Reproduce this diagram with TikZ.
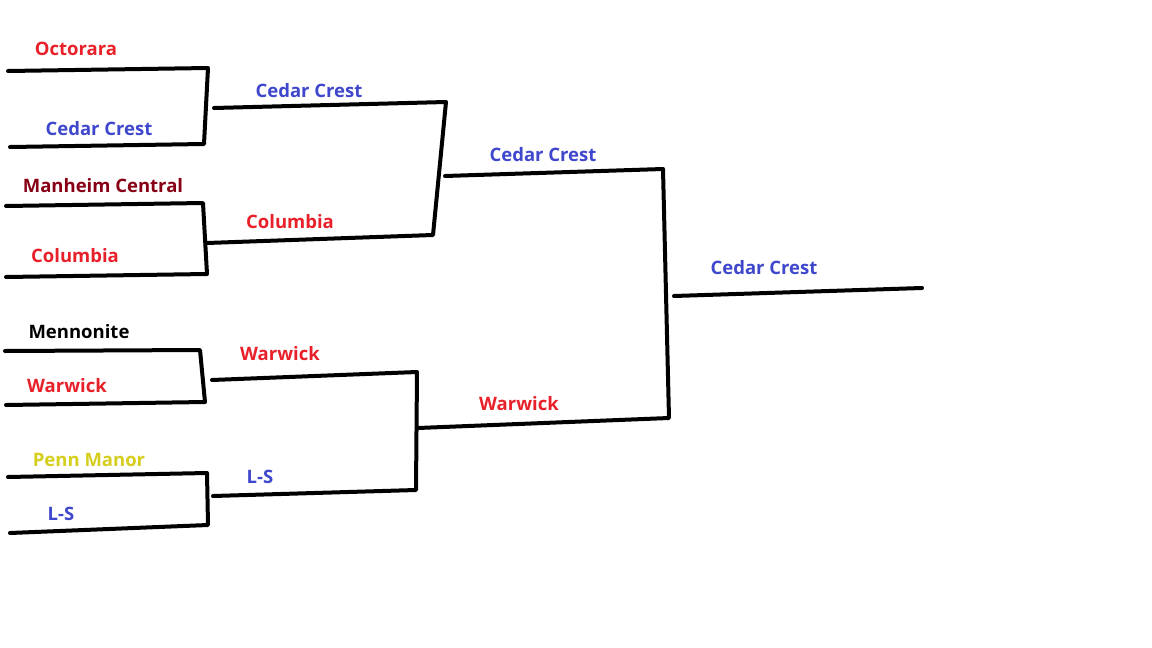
\documentclass[tikz,border=0pt]{standalone}
\usepackage{fontspec}
\setmainfont{Open Sans}
\definecolor{pred}{HTML}{E8202A}
\definecolor{pblue}{HTML}{3F48CC}
\definecolor{pdark}{HTML}{880015}
\definecolor{pyel}{HTML}{D6CE1C}
\tikzset{
  bline/.style={line width=4pt, line cap=round, line join=round, black},
  team/.style={font=\bfseries\fontsize{18.5}{22}\selectfont, inner sep=0pt, anchor=center}
}
\begin{document}
\begin{tikzpicture}[x=1pt,y=-1pt]
\fill[white] (0,0) rectangle (1152,648);
\useasboundingbox (0,0) rectangle (1152,648);
% round 1 corners
\coordinate (a1) at (8,71);   \coordinate (a2) at (208,68);
\coordinate (a3) at (204,144);\coordinate (a4) at (10,147);
\coordinate (b1) at (6,206);  \coordinate (b2) at (203,203);
\coordinate (b3) at (207,274);\coordinate (b4) at (6,277);
\coordinate (c1) at (5,351);  \coordinate (c2) at (200,350);
\coordinate (c3) at (205,402);\coordinate (c4) at (6,405);
\coordinate (d1) at (8,477);  \coordinate (d2) at (207,473);
\coordinate (d3) at (208,525);\coordinate (d4) at (10,533);
% round 2
\coordinate (e1) at (214,108);\coordinate (e2) at (446,102);
\coordinate (e3) at (433,235);\coordinate (e4) at (207,243);
\coordinate (f1) at (212,380);\coordinate (f2) at (417,372);
\coordinate (f3) at (416,490);\coordinate (f4) at (213,496);
% round 3
\coordinate (g1) at (445,176);\coordinate (g2) at (663,169);
\coordinate (g3) at (669,418);\coordinate (g4) at (418,428);
% final
\coordinate (h1) at (674,296);\coordinate (h2) at (922,288);

\draw[bline] (a1) -- (a2) -- (a3) -- (a4);
\draw[bline] (b1) -- (b2) -- (b3) -- (b4);
\draw[bline] (c1) -- (c2) -- (c3) -- (c4);
\draw[bline] (d1) -- (d2) -- (d3) -- (d4);
\draw[bline] (e1) -- (e2) -- (e3) -- (e4);
\draw[bline] (f1) -- (f2) -- (f3) -- (f4);
\draw[bline] (g1) -- (g2) -- (g3) -- (g4);
\draw[bline] (h1) -- (h2);

\node[team, text=pred]  (t1)  at (76,49)   {Octorara};
\node[team, text=pblue] (t2)  at (99,129)  {Cedar Crest};
\node[team, text=pdark] (t3)  at (103,186) {Manheim Central};
\node[team, text=pred]  (t4)  at (75,256)  {Columbia};
\node[team, text=black] (t5)  at (79,332)  {Mennonite};
\node[team, text=pred]  (t6)  at (67,386)  {Warwick};
\node[team, text=pyel]  (t7)  at (89,460)  {Penn Manor};
\node[team, text=pblue] (t8)  at (61,514)  {L-S};
\node[team, text=pblue] (s1)  at (309,91)  {Cedar Crest};
\node[team, text=pred]  (s2)  at (290,222) {Columbia};
\node[team, text=pred]  (s3)  at (280,354) {Warwick};
\node[team, text=pblue] (s4)  at (260,477) {L-S};
\node[team, text=pblue] (q1)  at (543,155) {Cedar Crest};
\node[team, text=pred]  (q2)  at (519,404) {Warwick};
\node[team, text=pblue] (w1)  at (764,268) {Cedar Crest};
\end{tikzpicture}
\end{document}
